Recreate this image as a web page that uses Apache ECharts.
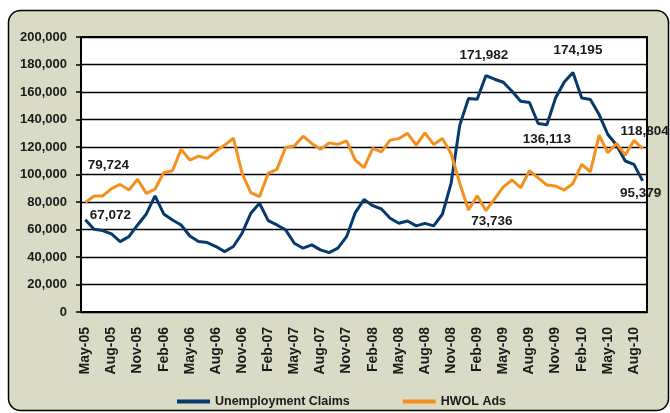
<!DOCTYPE html>
<html>
<head>
<meta charset="utf-8">
<script src="https://cdn.jsdelivr.net/npm/echarts@6/dist/echarts.min.js"></script>
<style>
  html, body { margin: 0; padding: 0; background: #fff; }
  #chart { width: 670px; height: 413px; }
</style>
</head>
<body>
<div id="chart"></div>
<script>
// months, May-05 .. Sep-10
var months = [
  'May-05','Jun-05','Jul-05','Aug-05','Sep-05','Oct-05','Nov-05','Dec-05',
  'Jan-06','Feb-06','Mar-06','Apr-06','May-06','Jun-06','Jul-06','Aug-06','Sep-06','Oct-06','Nov-06','Dec-06',
  'Jan-07','Feb-07','Mar-07','Apr-07','May-07','Jun-07','Jul-07','Aug-07','Sep-07','Oct-07','Nov-07','Dec-07',
  'Jan-08','Feb-08','Mar-08','Apr-08','May-08','Jun-08','Jul-08','Aug-08','Sep-08','Oct-08','Nov-08','Dec-08',
  'Jan-09','Feb-09','Mar-09','Apr-09','May-09','Jun-09','Jul-09','Aug-09','Sep-09','Oct-09','Nov-09','Dec-09',
  'Jan-10','Feb-10','Mar-10','Apr-10','May-10','Jun-10','Jul-10','Aug-10','Sep-10'
];

var claims = [
  67072, 60200, 59200, 56800, 51200, 54800, 63300, 71300, 84400, 71300,
  66900, 63300, 55300, 51200, 50500, 47600, 43900, 47600, 57300, 71800,
  79100, 66400, 63300, 59700, 50000, 46400, 48800, 45200, 43200, 46400,
  54800, 72300, 81800, 77300, 74900, 68200, 64500, 66200, 62600, 64500,
  62600, 71100, 93500, 135900, 155300, 154800, 171982, 169300, 167100, 160600,
  153300, 152400, 137100, 136113, 155700, 167300, 174195, 155700, 154500, 143600,
  129100, 121400, 109800, 107400, 95379
];

var hwol = [
  79724, 84400, 84400, 89700, 92800, 88700, 96500, 86300, 89400, 101300,
  102700, 118300, 110500, 113400, 111700, 117000, 121400, 126400, 100800, 86800,
  83900, 100800, 103700, 119700, 120700, 127900, 122600, 118300, 123000, 121900,
  124500, 110500, 105000, 119000, 116500, 125000, 126200, 129900, 121400, 130300,
  121900, 126200, 115300, 93500, 74200, 84600, 73736, 82200, 91000, 96000,
  90400, 102700, 97600, 92300, 91600, 88700, 93500, 107300, 102000, 128600,
  115800, 122600, 114100, 124800, 118804
];

// labelled points: [index, dx, dy]
var claimsLabels = [[0, 25, -4], [46, -2, -20], [53, 0, 14], [56, 5, -22], [64, -2, 12]];
var hwolLabels = [[0, 23, -37], [46, 6, 11], [64, 2, -17]];

var font = "'Liberation Sans', Arial, sans-serif";
var blue = '#063a6c';
var orange = '#f5901e';

function fmt(v) {
  return String(v).replace(/\B(?=(\d{3})+(?!\d))/g, ',');
}

function marks(values, list) {
  return {
    symbol: 'circle',
    symbolSize: 1,
    itemStyle: { color: 'rgba(0,0,0,0)' },
    label: {
      show: true,
      position: 'inside',
      color: '#1a1a1a',
      fontFamily: font,
      fontWeight: 'bold',
      fontSize: 13.5,
      formatter: function (p) { return fmt(p.value); }
    },
    data: list.map(function (l) {
      return {
        coord: [l[0], values[l[0]]],
        value: values[l[0]],
        label: { offset: [l[1], l[2]] }
      };
    })
  };
}

var myChart = echarts.init(document.getElementById('chart'));
myChart.setOption({
  animation: false,
  graphic: [{
    type: 'rect',
    z: -10,
    shape: { x: 8.5, y: 10.5, width: 660, height: 400, r: 12 },
    style: { fill: '#d9dbc4', stroke: '#000', lineWidth: 1.5 }
  }],
  grid: {
    left: 81, top: 37, width: 566, height: 275,
    show: true, backgroundColor: '#fff', borderColor: '#000', borderWidth: 2
  },
  legend: {
    left: 172, top: 390,
    itemWidth: 33, itemHeight: 4, itemGap: 53,
    icon: 'rect',
    textStyle: { fontFamily: font, fontWeight: 'bold', fontSize: 12.5, color: '#1a1a1a' },
    data: ['Unemployment Claims', 'HWOL Ads']
  },
  xAxis: {
    type: 'category',
    data: months,
    boundaryGap: true,
    axisLine: { lineStyle: { color: '#000', width: 2 } },
    axisTick: { interval: 0, length: 5, lineStyle: { color: '#000', width: 1.5 } },
    axisLabel: {
      interval: 2, rotate: 90, margin: 15,
      color: '#1a1a1a', fontFamily: font, fontWeight: 'bold', fontSize: 14
    }
  },
  yAxis: {
    type: 'value',
    min: 0, max: 200000, interval: 20000,
    axisLine: { show: true, lineStyle: { color: '#000', width: 2 } },
    axisTick: { show: true, length: 5, lineStyle: { color: '#000', width: 1.5 } },
    splitLine: { lineStyle: { color: '#000', width: 1.3 } },
    axisLabel: {
      margin: 14, color: '#1a1a1a', fontFamily: font, fontWeight: 'bold', fontSize: 13,
      formatter: function (v) { return fmt(v); }
    }
  },
  series: [{
    name: 'Unemployment Claims',
    type: 'line',
    data: claims,
    showSymbol: false,
    color: blue,
    lineStyle: { width: 3, color: blue },
    markPoint: marks(claims, claimsLabels)
  }, {
    name: 'HWOL Ads',
    type: 'line',
    data: hwol,
    showSymbol: false,
    color: orange,
    lineStyle: { width: 3, color: orange },
    markPoint: marks(hwol, hwolLabels)
  }]
});
</script>
</body>
</html>
